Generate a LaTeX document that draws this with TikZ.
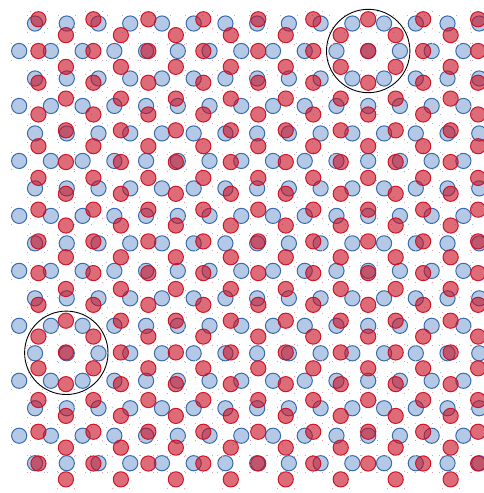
\documentclass[tikz,border=0pt]{standalone}
\definecolor{latblue}{RGB}{50, 100, 170}
\definecolor{latbluefill}{RGB}{40, 100, 180}
\definecolor{latred}{RGB}{205, 15, 35}
\definecolor{latredfill}{RGB}{200, 10, 30}
\usepackage{tikz}
\usetikzlibrary{calc}

\begin{document}
\begin{tikzpicture}[
  x=1pt, y=-1pt,
  bsite/.style={draw=latblue, fill=latbluefill, fill opacity=0.35, draw opacity=0.95, line width=1pt},
  rsite/.style={draw=latred, fill=latredfill, fill opacity=0.6, draw opacity=0.95, line width=1pt},
  bdot/.style={fill=latblue!45},
  rdot/.style={fill=latred!40},
  ring/.style={draw=black, line width=0.9pt}
]
  \useasboundingbox (0,0) rectangle (484,493);
  \clip (0,0) rectangle (484,493);
  \coordinate (O) at (368.2,51);
  \coordinate (Q) at (66.3,352.8);

  % lower layer: hexagonal lattice, rows horizontal
  \foreach \j in {-1,...,15}{
    \foreach \n in {-19,...,5}{
      \pgfmathsetmacro\px{368.2+31.73*\n+15.865*\j}
      \pgfmathsetmacro\py{51+27.48*\j}
      \pgfmathtruncatemacro\inside{(\px>12)*(\px<485)*(\py>12)*(\py<485)}
      \ifnum\inside=1
        \draw[bsite] (\px,\py) circle[radius=7.6pt];
        \foreach \dx/\dy in {-8.5/-8.5, 8.5/8.5, -8.5/8.5, 8.5/-8.5}
          \fill[bdot] ($(\px,\py)+(\dx,\dy)$) rectangle +(1,1);
      \fi
    }
  }

  % upper layer: same lattice turned by 30 degrees
  \foreach \k in {-12,...,4}{
    \foreach \m in {-4,...,20}{
      \pgfmathsetmacro\px{368.2+27.48*\k}
      \pgfmathsetmacro\py{51+31.73*\m+15.865*\k}
      \pgfmathtruncatemacro\inside{(\px>12)*(\px<485)*(\py>12)*(\py<485)}
      \ifnum\inside=1
        \draw[rsite] (\px,\py) circle[radius=7.6pt];
        \foreach \dx/\dy in {-8.5/-8.5, 8.5/8.5, -8.5/8.5, 8.5/-8.5}
          \fill[rdot] ($(\px,\py)+(\dx,\dy)$) rectangle +(1,1);
      \fi
    }
  }

  % twelvefold centres
  \draw[ring] (O) circle[radius=41.7pt];
  \draw[ring] (Q) circle[radius=41.7pt];
\end{tikzpicture}
\end{document}
